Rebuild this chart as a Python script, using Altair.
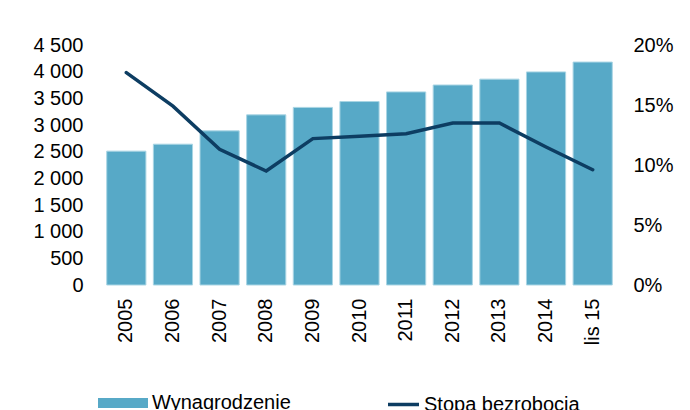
import altair as alt
import pandas as pd

years = ["2005", "2006", "2007", "2008", "2009", "2010", "2011", "2012", "2013", "2014", "lis 15"]
wages = [2510, 2640, 2890, 3190, 3330, 3440, 3620, 3750, 3860, 3995, 4180]
unemployment = [0.177, 0.149, 0.113, 0.095, 0.122, 0.124, 0.126, 0.135, 0.135, 0.115, 0.096]
bar_label = "Wynagrodzenie"
line_label = "Stopa bezrobocia"

df = pd.DataFrame({
    "rok": years,
    "wyn": wages,
    "stopa": unemployment,
    "s1": [bar_label] * len(years),
    "s2": [line_label] * len(years),
})

FONT = "Liberation Sans"
BAR = "#57a9c7"
LINE = "#0d3d62"

x_enc = alt.X(
    "rok:N", sort=years, title=None,
    scale=alt.Scale(paddingInner=0.16, paddingOuter=0.08),
    axis=alt.Axis(labelAngle=-90, ticks=False, domain=False, labelPadding=13,
                  labelFontSize=20, labelColor="#000000", labelFont=FONT, grid=False),
)

bars = alt.Chart(df).mark_bar(stroke="#a9d5e4", strokeWidth=1).encode(
    x=x_enc,
    y=alt.Y("wyn:Q", title=None, scale=alt.Scale(domain=[0, 4500], nice=False),
            axis=alt.Axis(values=list(range(0, 4501, 500)), ticks=False, domain=False, grid=False,
                          labelPadding=20, labelFontSize=20, labelColor="#000000", labelFont=FONT,
                          labelExpr="replace(format(datum.value, ',d'), ',', ' ')")),
    color=alt.Color("s1:N", scale=alt.Scale(domain=[bar_label], range=[BAR]),
                    legend=alt.Legend(title=None, orient="none", legendX=-5, legendY=333,
                                      symbolType="M-1,-0.2H1V0.2H-1Z", symbolSize=2500,
                                      symbolStrokeWidth=0, labelFontSize=20, labelFont=FONT,
                                      labelColor="#000000", labelOffset=4)),
)

line = alt.Chart(df).mark_line(strokeWidth=3.5, strokeCap="round").encode(
    x=x_enc,
    y=alt.Y("stopa:Q", title=None, scale=alt.Scale(domain=[0, 0.2], nice=False),
            axis=alt.Axis(orient="right", values=[0, 0.05, 0.1, 0.15, 0.2], format=".0%",
                          ticks=False, domain=False, grid=False, labelPadding=17,
                          labelFontSize=20, labelColor="#000000", labelFont=FONT)),
    stroke=alt.Stroke("s2:N", scale=alt.Scale(domain=[line_label], range=[LINE]),
                      legend=alt.Legend(title=None, orient="none", legendX=283, legendY=342,
                                        symbolType="stroke", symbolSize=961, symbolStrokeWidth=3.5,
                                        labelFontSize=20, labelFont=FONT, labelColor="#000000",
                                        labelOffset=3)),
)

chart = alt.layer(bars, line).resolve_scale(
    y="independent", color="independent", stroke="independent"
).properties(
    width=513, height=240,
    autosize=alt.AutoSizeParams(type="none"),
    padding={"left": 95, "top": 37, "right": 66, "bottom": 125},
).configure_view(stroke=None)

chart.save("out.html", embed_options={"renderer": "svg", "actions": False})
